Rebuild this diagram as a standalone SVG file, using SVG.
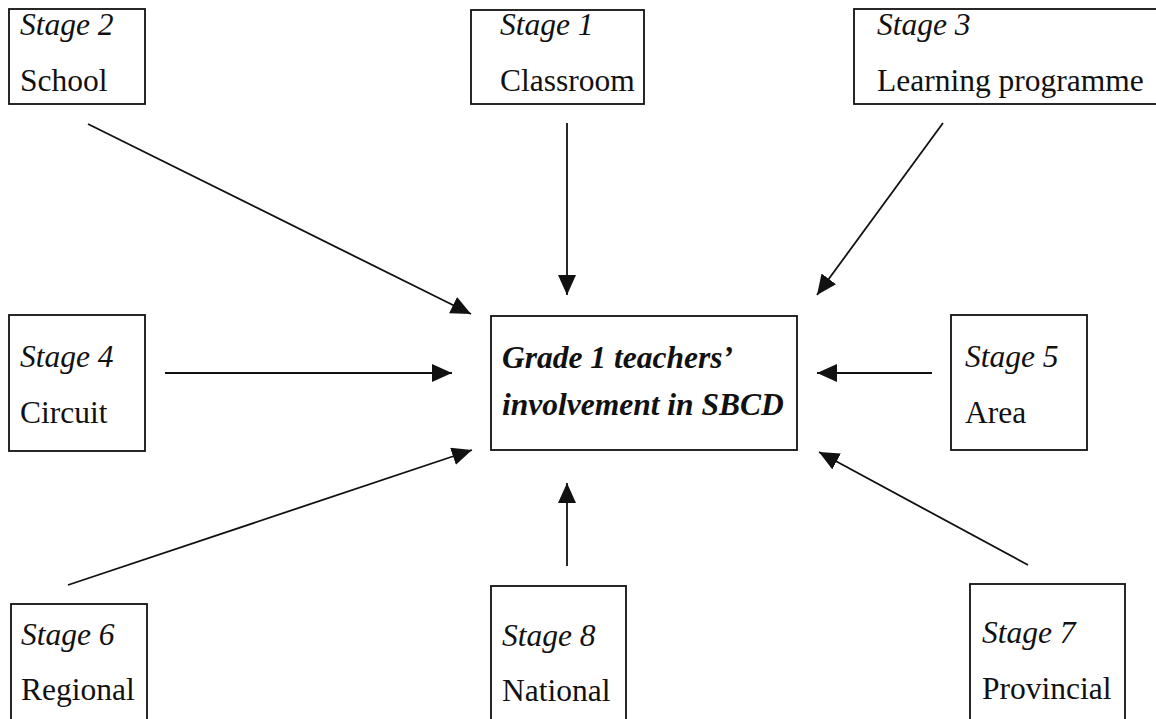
<svg xmlns="http://www.w3.org/2000/svg" width="1156" height="719" viewBox="0 0 1156 719">
  <style>
    .box { fill: #ffffff; stroke: #111111; stroke-width: 1.8; }
    .stage { font-family: "Liberation Serif", "Times New Roman", serif; font-style: italic; font-size: 31.5px; fill: #111111; }
    .name { font-family: "Liberation Serif", "Times New Roman", serif; font-size: 31.5px; fill: #111111; }
    .core { font-family: "Liberation Serif", "Times New Roman", serif; font-style: italic; font-weight: bold; font-size: 31.5px; fill: #111111; }
    .link { stroke: #111111; stroke-width: 1.8; fill: none; marker-end: url(#head); }
  </style>
  <defs>
    <marker id="head" markerUnits="userSpaceOnUse" markerWidth="22" markerHeight="20" refX="20" refY="9" orient="auto">
      <path d="M0,0 L20,9 L0,18 Z" fill="#111111"/>
    </marker>
  </defs>
  <rect width="1156" height="719" fill="#ffffff"/>

  <g id="stage2">
    <rect class="box" x="9" y="9" width="136" height="95"/>
    <text class="stage" x="20" y="35">Stage 2</text>
    <text class="name" x="20" y="91">School</text>
  </g>
  <g id="stage1">
    <rect class="box" x="471" y="10" width="173" height="94"/>
    <text class="stage" x="500" y="35">Stage 1</text>
    <text class="name" x="500" y="91">Classroom</text>
  </g>
  <g id="stage3">
    <rect class="box" x="854" y="9" width="310" height="95"/>
    <text class="stage" x="877" y="35">Stage 3</text>
    <text class="name" x="877" y="91">Learning programme</text>
  </g>
  <g id="core">
    <rect class="box" x="491" y="316" width="306" height="134"/>
    <text class="core" x="502" y="368">Grade 1 teachers’</text>
    <text class="core" x="502" y="415">involvement in SBCD</text>
  </g>
  <g id="stage4">
    <rect class="box" x="9" y="315" width="136" height="136"/>
    <text class="stage" x="20" y="367">Stage 4</text>
    <text class="name" x="20" y="423">Circuit</text>
  </g>
  <g id="stage5">
    <rect class="box" x="951" y="315" width="136" height="135"/>
    <text class="stage" x="965" y="367">Stage 5</text>
    <text class="name" x="965" y="423">Area</text>
  </g>
  <g id="stage6">
    <rect class="box" x="11" y="604" width="136" height="130"/>
    <text class="stage" x="21" y="645">Stage 6</text>
    <text class="name" x="21" y="700">Regional</text>
  </g>
  <g id="stage8">
    <rect class="box" x="491" y="586" width="135" height="148"/>
    <text class="stage" x="502" y="646">Stage 8</text>
    <text class="name" x="502" y="701">National</text>
  </g>
  <g id="stage7">
    <rect class="box" x="970" y="584" width="155" height="150"/>
    <text class="stage" x="982" y="643">Stage 7</text>
    <text class="name" x="982" y="699">Provincial</text>
  </g>

  <g id="connectors">
    <line class="link" x1="88" y1="124" x2="471" y2="314"/>
    <line class="link" x1="567" y1="123" x2="567" y2="295"/>
    <line class="link" x1="943" y1="123" x2="817" y2="295"/>
    <line class="link" x1="165" y1="373" x2="452" y2="373"/>
    <line class="link" x1="932" y1="373" x2="817" y2="373"/>
    <line class="link" x1="68" y1="585" x2="472" y2="450"/>
    <line class="link" x1="567" y1="566" x2="567" y2="483"/>
    <line class="link" x1="1028" y1="565" x2="819" y2="452"/>
  </g>
</svg>
